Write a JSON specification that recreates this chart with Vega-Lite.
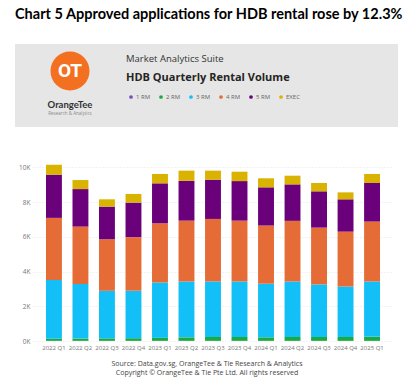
{
  "$schema": "https://vega.github.io/schema/vega-lite/v6.json",
  "background": "white",
  "padding": {"left": 15, "top": 6, "right": 12, "bottom": 5},
  "title": {"text": "Chart 5 Approved applications for HDB rental rose by 12.3%", "anchor": "start", "font": "Lato", "fontSize": 14.5, "fontWeight": "bold", "color": "#000000", "offset": 22, "dx": 0},
  "config": {"view": {"stroke": null}, "font": "Open Sans"},
  "datasets": {
    "brand": [{"brand": "OrangeTee", "tagline": "Research & Analytics", "initials": "OT"}],
    "rental": [
      {"quarter": "2022 Q1", "type": "1 RM", "count": 10}, {"quarter": "2022 Q1", "type": "2 RM", "count": 120}, {"quarter": "2022 Q1", "type": "3 RM", "count": 3390}, {"quarter": "2022 Q1", "type": "4 RM", "count": 3570}, {"quarter": "2022 Q1", "type": "5 RM", "count": 2490}, {"quarter": "2022 Q1", "type": "EXEC", "count": 570},
      {"quarter": "2022 Q2", "type": "1 RM", "count": 10}, {"quarter": "2022 Q2", "type": "2 RM", "count": 130}, {"quarter": "2022 Q2", "type": "3 RM", "count": 3140}, {"quarter": "2022 Q2", "type": "4 RM", "count": 3310}, {"quarter": "2022 Q2", "type": "5 RM", "count": 2160}, {"quarter": "2022 Q2", "type": "EXEC", "count": 520},
      {"quarter": "2022 Q3", "type": "1 RM", "count": 10}, {"quarter": "2022 Q3", "type": "2 RM", "count": 140}, {"quarter": "2022 Q3", "type": "3 RM", "count": 2740}, {"quarter": "2022 Q3", "type": "4 RM", "count": 2970}, {"quarter": "2022 Q3", "type": "5 RM", "count": 1880}, {"quarter": "2022 Q3", "type": "EXEC", "count": 420},
      {"quarter": "2022 Q4", "type": "1 RM", "count": 10}, {"quarter": "2022 Q4", "type": "2 RM", "count": 150}, {"quarter": "2022 Q4", "type": "3 RM", "count": 2730}, {"quarter": "2022 Q4", "type": "4 RM", "count": 3090}, {"quarter": "2022 Q4", "type": "5 RM", "count": 1990}, {"quarter": "2022 Q4", "type": "EXEC", "count": 500},
      {"quarter": "2023 Q1", "type": "1 RM", "count": 10}, {"quarter": "2023 Q1", "type": "2 RM", "count": 170}, {"quarter": "2023 Q1", "type": "3 RM", "count": 3190}, {"quarter": "2023 Q1", "type": "4 RM", "count": 3410}, {"quarter": "2023 Q1", "type": "5 RM", "count": 2300}, {"quarter": "2023 Q1", "type": "EXEC", "count": 540},
      {"quarter": "2023 Q2", "type": "1 RM", "count": 10}, {"quarter": "2023 Q2", "type": "2 RM", "count": 200}, {"quarter": "2023 Q2", "type": "3 RM", "count": 3220}, {"quarter": "2023 Q2", "type": "4 RM", "count": 3500}, {"quarter": "2023 Q2", "type": "5 RM", "count": 2300}, {"quarter": "2023 Q2", "type": "EXEC", "count": 580},
      {"quarter": "2023 Q3", "type": "1 RM", "count": 10}, {"quarter": "2023 Q3", "type": "2 RM", "count": 220}, {"quarter": "2023 Q3", "type": "3 RM", "count": 3200}, {"quarter": "2023 Q3", "type": "4 RM", "count": 3600}, {"quarter": "2023 Q3", "type": "5 RM", "count": 2260}, {"quarter": "2023 Q3", "type": "EXEC", "count": 520},
      {"quarter": "2023 Q4", "type": "1 RM", "count": 10}, {"quarter": "2023 Q4", "type": "2 RM", "count": 220}, {"quarter": "2023 Q4", "type": "3 RM", "count": 3200}, {"quarter": "2023 Q4", "type": "4 RM", "count": 3500}, {"quarter": "2023 Q4", "type": "5 RM", "count": 2280}, {"quarter": "2023 Q4", "type": "EXEC", "count": 540},
      {"quarter": "2024 Q1", "type": "1 RM", "count": 10}, {"quarter": "2024 Q1", "type": "2 RM", "count": 200}, {"quarter": "2024 Q1", "type": "3 RM", "count": 3090}, {"quarter": "2024 Q1", "type": "4 RM", "count": 3350}, {"quarter": "2024 Q1", "type": "5 RM", "count": 2200}, {"quarter": "2024 Q1", "type": "EXEC", "count": 520},
      {"quarter": "2024 Q2", "type": "1 RM", "count": 10}, {"quarter": "2024 Q2", "type": "2 RM", "count": 220}, {"quarter": "2024 Q2", "type": "3 RM", "count": 3200}, {"quarter": "2024 Q2", "type": "4 RM", "count": 3490}, {"quarter": "2024 Q2", "type": "5 RM", "count": 2100}, {"quarter": "2024 Q2", "type": "EXEC", "count": 500},
      {"quarter": "2024 Q3", "type": "1 RM", "count": 10}, {"quarter": "2024 Q3", "type": "2 RM", "count": 220}, {"quarter": "2024 Q3", "type": "3 RM", "count": 3030}, {"quarter": "2024 Q3", "type": "4 RM", "count": 3270}, {"quarter": "2024 Q3", "type": "5 RM", "count": 2090}, {"quarter": "2024 Q3", "type": "EXEC", "count": 480},
      {"quarter": "2024 Q4", "type": "1 RM", "count": 10}, {"quarter": "2024 Q4", "type": "2 RM", "count": 220}, {"quarter": "2024 Q4", "type": "3 RM", "count": 2910}, {"quarter": "2024 Q4", "type": "4 RM", "count": 3160}, {"quarter": "2024 Q4", "type": "5 RM", "count": 1860}, {"quarter": "2024 Q4", "type": "EXEC", "count": 400},
      {"quarter": "2025 Q1", "type": "1 RM", "count": 10}, {"quarter": "2025 Q1", "type": "2 RM", "count": 230}, {"quarter": "2025 Q1", "type": "3 RM", "count": 3190}, {"quarter": "2025 Q1", "type": "4 RM", "count": 3450}, {"quarter": "2025 Q1", "type": "5 RM", "count": 2220}, {"quarter": "2025 Q1", "type": "EXEC", "count": 520}
    ]
  },
  "resolve": {"scale": {"color": "independent"}, "legend": {"color": "independent"}},
  "spacing": 23,
  "vconcat": [
    {
      "spacing": 0,
      "hconcat": [
        {
          "spacing": 0,
          "vconcat": [
            {
              "width": 110, "height": 54, "view": {"fill": "#e6e6e6", "stroke": null},
              "data": {"name": "brand"},
              "layer": [
                {"mark": {"type": "point", "shape": "circle", "filled": true, "size": 1521, "color": "#f37021", "opacity": 1}, "encoding": {}},
                {"mark": {"type": "text", "font": "Roboto", "fontSize": 19, "fontWeight": "bold", "color": "white"}, "encoding": {"text": {"field": "initials"}}}
              ]
            },
            {
              "width": 110, "height": 29, "view": {"fill": "#e6e6e6", "stroke": null},
              "data": {"name": "brand"},
              "layer": [
                {"mark": {"type": "text", "font": "Lato", "fontSize": 9.5, "fontWeight": "bold", "color": "#333333", "dy": -8}, "encoding": {"text": {"field": "brand"}}},
                {"mark": {"type": "text", "fontSize": 4.5, "color": "#888888", "dy": 1}, "encoding": {"text": {"field": "tagline"}}}
              ]
            }
          ]
        },
        {
          "width": 273, "height": 83, "view": {"fill": "#e6e6e6", "stroke": null},
          "data": {"name": "rental"},
          "title": {"text": "Market Analytics Suite", "subtitle": "HDB Quarterly Rental Volume", "anchor": "start", "orient": "top", "offset": -39, "font": "Open Sans", "fontSize": 9.5, "fontWeight": "normal", "color": "#333333", "subtitleFont": "Open Sans", "subtitleFontSize": 11, "subtitleFontWeight": "bold", "subtitleColor": "#252423", "subtitlePadding": 9, "dx": 1},
          "mark": {"type": "point", "filled": true, "opacity": 0},
          "encoding": {
            "color": {"field": "type", "type": "nominal",
              "scale": {"domain": ["1 RM", "2 RM", "3 RM", "4 RM", "5 RM", "EXEC"], "range": ["#744EC2", "#1AAB40", "#12C0F7", "#E66C37", "#6B007B", "#D9B300"]},
              "legend": {"orient": "none", "legendX": 113, "legendY": 50, "direction": "horizontal", "columns": 6, "title": null, "symbolType": "circle", "symbolSize": 14, "symbolOpacity": 1, "labelFontSize": 6, "labelColor": "#666666", "labelFont": "Open Sans", "columnPadding": 7, "labelOffset": 2}}
          }
        }
      ]
    },
    {
      "spacing": 0,
      "hconcat": [
        {
          "width": 1, "height": 191,
          "data": {"name": "brand"},
          "mark": {"type": "point", "opacity": 0, "size": 0},
          "encoding": {}
        },
        {
          "width": 360, "height": 191,
          "data": {"name": "rental"},
          "title": {"text": ["Source: Data.gov.sg, OrangeTee & Tie Research & Analytics", "Copyright © OrangeTee & Tie Pte Ltd. All rights reserved"], "orient": "bottom", "anchor": "middle", "fontSize": 7, "fontWeight": "normal", "color": "#444444", "font": "Open Sans", "lineHeight": 9, "offset": 10, "dx": -6},
          "mark": {"type": "bar"},
          "encoding": {
            "x": {"field": "quarter", "type": "nominal", "sort": null, "scale": {"paddingInner": 0.4, "paddingOuter": 0.49},
              "axis": {"title": null, "labelAngle": 0, "labelFontSize": 6, "labelColor": "#777777", "labelFont": "Open Sans", "domain": false, "ticks": false, "labelPadding": 3}},
            "y": {"field": "count", "type": "quantitative", "stack": "zero", "scale": {"domain": [0, 11000]},
              "axis": {"title": null, "values": [0, 2000, 4000, 6000, 8000, 10000], "labelExpr": "datum.value / 1000 + 'K'", "domain": false, "ticks": false, "grid": true, "gridColor": "#e4e4e4", "gridDash": [1, 2], "labelFontSize": 6.5, "labelColor": "#777777", "labelFont": "Open Sans", "labelPadding": 3, "minExtent": 17}},
            "color": {"field": "type", "type": "nominal",
              "scale": {"domain": ["1 RM", "2 RM", "3 RM", "4 RM", "5 RM", "EXEC"], "range": ["#744EC2", "#1AAB40", "#12C0F7", "#E66C37", "#6B007B", "#D9B300"]},
              "legend": null},
            "order": {"field": "type", "sort": "ascending"}
          }
        }
      ]
    }
  ]
}
